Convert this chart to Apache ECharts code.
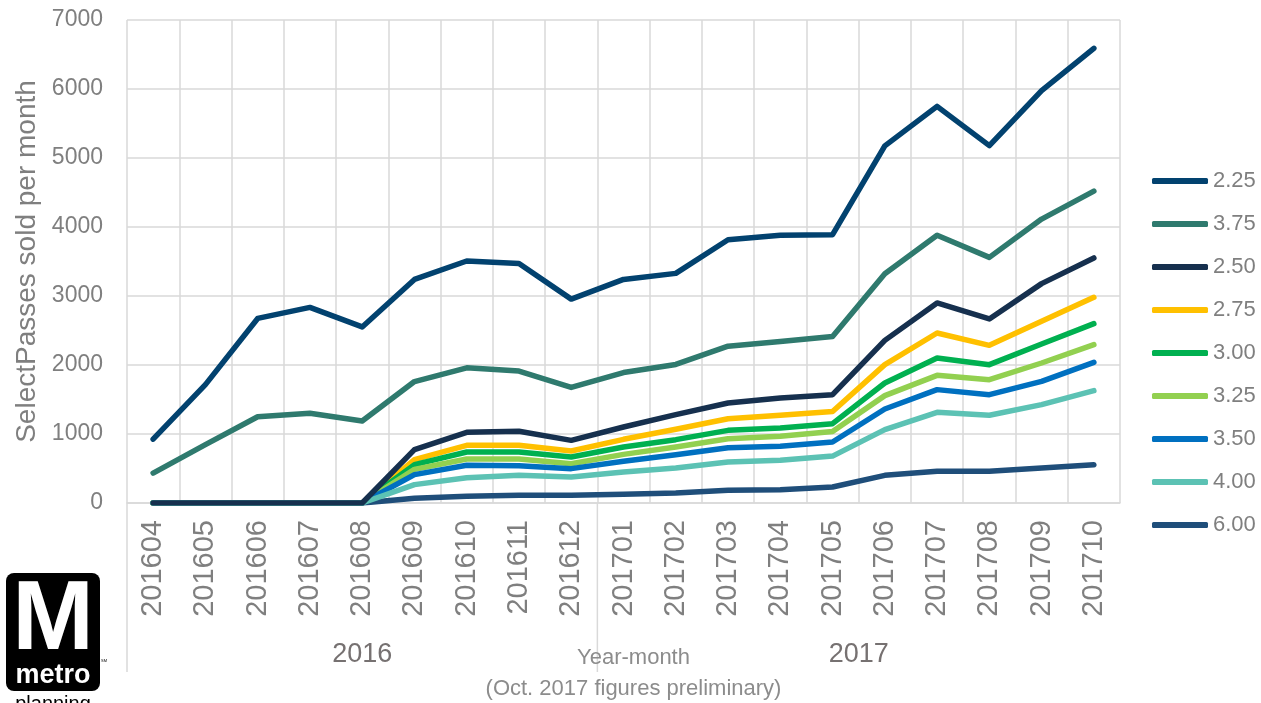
<!DOCTYPE html>
<html>
<head>
<meta charset="utf-8">
<script src="https://cdn.jsdelivr.net/npm/echarts@6/dist/echarts.min.js"></script>
<style>
html,body{margin:0;padding:0;background:#fff;}
#chart{width:1261px;height:703px;}
</style>
</head>
<body>
<div id="chart"></div>
<script>
var categories = ['201604','201605','201606','201607','201608','201609','201610','201611','201612','201701','201702','201703','201704','201705','201706','201707','201708','201709','201710'];
var yearGroups = ['2016','2017'];
var yearGroupSizes = [9, 10];
var seriesNames = ['2.25','3.75','2.50','2.75','3.00','3.25','3.50','4.00','6.00'];
var s225 = [925, 1715, 2675, 2835, 2552, 3240, 3507, 3470, 2955, 3240, 3328, 3815, 3882, 3888, 5175, 5748, 5180, 5976, 6590];
var s375 = [434, 845, 1250, 1302, 1189, 1760, 1959, 1913, 1675, 1890, 2008, 2273, 2340, 2412, 3322, 3880, 3560, 4115, 4520];
var s250 = [0, 0, 0, 0, 0, 773, 1024, 1039, 908, 1101, 1280, 1449, 1522, 1570, 2357, 2899, 2667, 3179, 3551];
var s275 = [0, 0, 0, 0, 0, 628, 836, 836, 754, 923, 1068, 1222, 1271, 1325, 2005, 2464, 2285, 2633, 2981];
var s300 = [0, 0, 0, 0, 0, 556, 739, 739, 667, 812, 918, 1053, 1087, 1150, 1739, 2101, 2005, 2304, 2599];
var s325 = [0, 0, 0, 0, 0, 488, 638, 638, 570, 705, 812, 932, 966, 1035, 1556, 1850, 1787, 2029, 2295];
var s350 = [0, 0, 0, 0, 0, 411, 546, 541, 498, 604, 700, 802, 821, 884, 1362, 1643, 1570, 1763, 2039];
var s400 = [0, 0, 0, 0, 0, 266, 367, 401, 377, 449, 507, 594, 618, 680, 1063, 1314, 1271, 1425, 1628];
var s600 = [0, 0, 0, 0, 0, 70, 97, 111, 111, 126, 145, 184, 193, 232, 401, 459, 459, 507, 556];
var seriesData = [s225, s375, s250, s275, s300, s325, s350, s400, s600];
var colors = ['#02426f', '#2f7a6e', '#16304e', '#ffc000', '#00b050', '#92d050', '#0070c0', '#5cc2b4', '#1f4e7a'];
var zOrder = [3, 3, 4, 3, 3, 3, 3, 3, 2];

var FONT = '"Liberation Sans", Arial, sans-serif';
var GRAY = '#7f7f7f';
var chart = echarts.init(document.getElementById('chart'), null, {renderer: 'canvas'});

var series = seriesNames.map(function (n, i) {
  return {
    name: n, type: 'line', data: seriesData[i], symbol: 'none', z: zOrder[i],
    lineStyle: {width: 5.5, color: colors[i], cap: 'round', join: 'round'},
    itemStyle: {color: colors[i]},
    emphasis: {disabled: true}
  };
});

var option = {
  animation: false,
  backgroundColor: '#fff',
  textStyle: {fontFamily: FONT},
  grid: {left: 127, top: 20, width: 993, height: 483, containLabel: false},
  legend: {
    orient: 'vertical', left: 1152, top: 170, icon: 'roundRect',
    itemWidth: 56, itemHeight: 6, itemGap: 21, padding: 0,
    textStyle: {fontSize: 22, color: GRAY, fontFamily: FONT, lineHeight: 22},
    data: seriesNames
  },
  xAxis: {
    type: 'category', data: categories, boundaryGap: true,
    axisLine: {show: true, lineStyle: {color: '#d9d9d9', width: 1.5}},
    axisTick: {show: false},
    splitLine: {show: true, lineStyle: {color: '#d9d9d9', width: 1.5}},
    axisLabel: {rotate: 90, fontSize: 29, color: GRAY, margin: 17, fontFamily: FONT, interval: 0}
  },
  yAxis: {
    type: 'value', min: 0, max: 7000, interval: 1000,
    name: 'SelectPasses sold per month', nameLocation: 'middle', nameRotate: 90, nameGap: 84,
    nameTextStyle: {fontSize: 28, color: GRAY, fontFamily: FONT},
    axisLine: {show: false}, axisTick: {show: false},
    splitLine: {show: true, lineStyle: {color: '#d9d9d9', width: 1.5}},
    axisLabel: {fontSize: 23, color: GRAY, margin: 24, fontFamily: FONT, formatter: function (v) { return String(v); }}
  },
  series: series
};
chart.setOption(option);

var x0 = chart.convertToPixel({xAxisIndex: 0}, categories[0]);
var x1 = chart.convertToPixel({xAxisIndex: 0}, categories[1]);
var band = x1 - x0;
var yAxisPx = chart.convertToPixel({yAxisIndex: 0}, 0);
var graphics = [];
var startIdx = 0;
for (var g = 0; g < yearGroups.length; g++) {
  var endIdx = startIdx + yearGroupSizes[g] - 1;
  var cs = chart.convertToPixel({xAxisIndex: 0}, categories[startIdx]);
  var ce = chart.convertToPixel({xAxisIndex: 0}, categories[endIdx]);
  graphics.push({type: 'text', x: (cs + ce) / 2, y: yAxisPx + 152, style: {text: yearGroups[g], font: '27px ' + FONT, fill: '#767171', textAlign: 'center', textVerticalAlign: 'middle'}});
  graphics.push({type: 'line', shape: {x1: cs - band / 2, y1: yAxisPx, x2: cs - band / 2, y2: yAxisPx + 169}, style: {stroke: '#d9d9d9', lineWidth: 1.5}});
  startIdx = endIdx + 1;
}
var midX = 127 + 993 / 2 + 10;
graphics.push({type: 'text', x: midX, y: yAxisPx + 155, style: {text: 'Year-month', font: '22px ' + FONT, fill: '#8c8c8c', textAlign: 'center', textVerticalAlign: 'middle'}});
graphics.push({type: 'text', x: midX, y: yAxisPx + 186, style: {text: '(Oct. 2017 figures preliminary)', font: '22px ' + FONT, fill: '#8c8c8c', textAlign: 'center', textVerticalAlign: 'middle'}});
graphics.push({type: 'rect', shape: {x: 6, y: 573, width: 94, height: 118, r: 8}, style: {fill: '#000'}});
graphics.push({type: 'text', x: 53, y: 622, style: {text: 'M', font: 'bold 98px ' + FONT, fill: '#fff', textAlign: 'center', textVerticalAlign: 'middle'}});
graphics.push({type: 'text', x: 53, y: 676, style: {text: 'metro', font: 'bold 27px ' + FONT, fill: '#fff', textAlign: 'center', textVerticalAlign: 'middle'}});
graphics.push({type: 'text', x: 53, y: 704, style: {text: 'planning', font: '20px ' + FONT, fill: '#000', textAlign: 'center', textVerticalAlign: 'middle'}});
graphics.push({type: 'text', x: 101, y: 661, style: {text: 'SM', font: '4px ' + FONT, fill: '#000', textAlign: 'left', textVerticalAlign: 'middle'}});
chart.setOption({graphic: graphics});
</script>
</body>
</html>
